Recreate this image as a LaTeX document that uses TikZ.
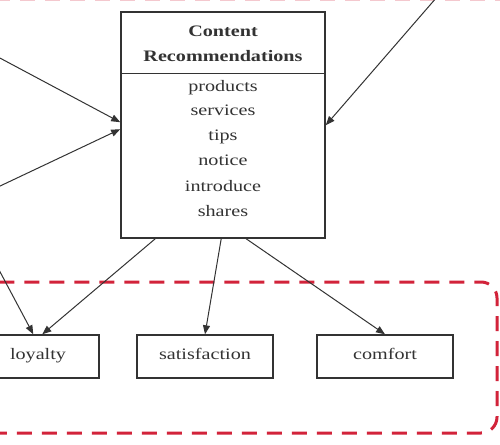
\documentclass[tikz,border=0pt]{standalone}
\usepackage{fontspec}
\setmainfont{Liberation Serif}[FakeStretch=1.26]
\usetikzlibrary{arrows.meta,calc}
\definecolor{inkgray}{HTML}{333333}
\definecolor{groupred}{HTML}{D2233A}
\begin{document}
\begin{tikzpicture}[x=1pt,y=-1pt,
  every node/.style={text=inkgray,font=\fontsize{16}{18}\selectfont,inner sep=0pt,
    text height=9.5pt,text depth=4.5pt},
  frame/.style={draw=inkgray,line width=1.6pt,fill=white},
  leaf/.style={frame,line width=1.4pt,minimum width=136pt,minimum height=43pt},
  link/.style={draw=inkgray,line width=1pt,-{Triangle[length=9pt,width=7pt]}},
  group/.style={draw=groupred,line width=3pt,dash pattern=on 15pt off 10pt,rounded corners=16pt}]
\useasboundingbox (0,0) rectangle (500,444);
\fill[white] (0,0) rectangle (500,444);

% dashed grouping frames
\draw[draw=groupred!25,line width=1pt,dash pattern=on 15pt off 10pt] (-5,0.3) -- (505,0.3);
\draw[group] (-30,282) rectangle (497,433);

% central box with heading and item list
\node[frame,minimum width=204pt,minimum height=226pt,text height=,text depth=] (main) at (223,125) {};
\draw[inkgray,line width=1.2pt] ($(main.north west)+(0,62)$) -- ($(main.north east)+(0,62)$);
\node[font=\fontsize{16}{18}\bfseries\selectfont] (t1) at (223,34) {Content};
\node[font=\fontsize{16}{18}\bfseries\selectfont] (t2) at (223,59.5) {Recommendations};
\node (i1) at (223,88.5) {products};
\node (i2) at (223,112.5) {services};
\node (i3) at (223,137.5) {tips};
\node (i4) at (223,162.5) {notice};
\node (i5) at (223,188.5) {introduce};
\node (i6) at (223,213.5) {shares};

% outcome boxes
\node[leaf,minimum width=122pt] (loy) at (38,356.5) {loyalty};
\node[leaf] (sat) at (205,356.5) {satisfaction};
\node[leaf] (com) at (385,356.5) {comfort};

% incoming links from outside
\coordinate (srcA) at (-2,57);
\coordinate (srcB) at (-2,187);
\coordinate (srcC) at (437,-3);
\coordinate (srcD) at (-2,268);
\draw[link] (srcA) -- ($(main.north west)+(0,111)$);
\draw[link] (srcB) -- ($(main.north west)+(0,118)$);
\draw[link] (srcC) -- ($(main.north east)+(0,114)$);
\draw[link] (srcD) -- ($(loy.north west)+(57,0)$);

% outgoing links
\draw[link] ($(main.south west)+(35,0)$) -- ($(loy.north west)+(66,0)$);
\draw[link] ($(main.south west)+(101,0)$) -- (sat.north);
\draw[link] ($(main.south west)+(126,0)$) -- (com.north);
\end{tikzpicture}
\end{document}
